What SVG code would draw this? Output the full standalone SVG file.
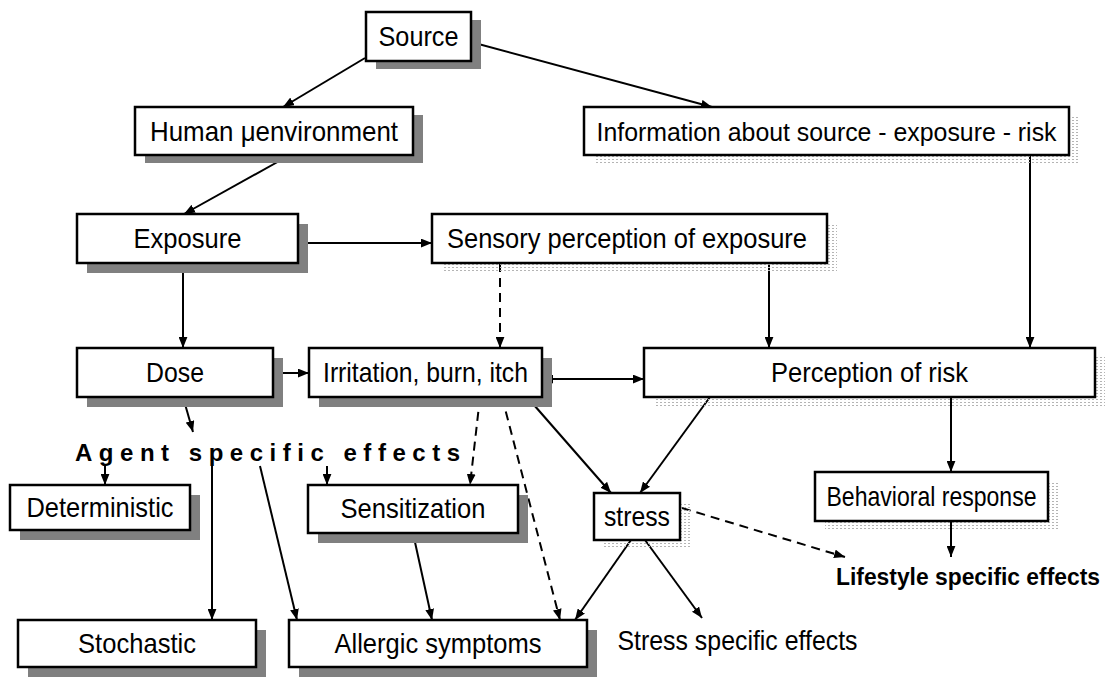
<svg xmlns="http://www.w3.org/2000/svg" width="1110" height="690" viewBox="0 0 1110 690">
<defs>
<style>
.box{fill:#fff;stroke:#000;stroke-width:2.5}
.sh{fill:#808080}
.dsh{fill:url(#dots)}
.t{font-family:"Liberation Sans",Arial,sans-serif;font-size:28px;fill:#000;text-anchor:middle}
.c{fill:none;stroke:#000;stroke-width:2}
.d{stroke-dasharray:9 6}
.a{marker-end:url(#ah)}
</style>
<pattern id="dots" width="4" height="3" patternUnits="userSpaceOnUse">
<rect x="0" y="0" width="2" height="1" fill="#b4b4b4"/>
</pattern>
<marker id="ah" viewBox="0 0 10 8" refX="10" refY="4" markerWidth="11" markerHeight="9" markerUnits="userSpaceOnUse" orient="auto-start-reverse">
<path d="M0,0 L10,4 L0,8 z" fill="#000"/>
</marker>
</defs>
<rect width="1110" height="690" fill="#fff"/>

<g id="connectors">
<path class="c a" d="M365,58 L283,107"/>
<path class="c a" d="M471,42 L712,107"/>
<path class="c a" d="M290,155 L184,214"/>
<path class="c a" d="M1030,155 L1030,348"/>
<path class="c a" d="M298,243 L432,243"/>
<path class="c a" d="M183,263 L183,348"/>
<path class="c d a" d="M500,263 L500,348"/>
<path class="c a" d="M769,263 L769,348"/>
<path class="c a" d="M277,373 L309,373"/>
<path class="c a" d="M542,379 L644,379" marker-start="url(#ah)"/>
<path class="c a" d="M183,397 L193,432"/>
<path class="c a" d="M105,466 L105,485"/>
<path class="c a" d="M327,466 L327,485"/>
<path class="c a" d="M212,466 L212,620"/>
<path class="c a" d="M260,466 L297,620"/>
<path class="c d a" d="M480,397 L470,485"/>
<path class="c d a" d="M502,397 L560,620"/>
<path class="c a" d="M527,397 L611,493"/>
<path class="c a" d="M710,397 L640,493"/>
<path class="c a" d="M951,397 L951,472"/>
<path class="c a" d="M951,521 L951,557"/>
<path class="c d a" d="M682,508 L845,557"/>
<path class="c a" d="M413,533 L432,620"/>
<path class="c a" d="M631,540 L575,620"/>
<path class="c a" d="M645,540 L702,618"/>
</g>

<g id="source">
<rect class="sh" x="376" y="20" width="105" height="49"/>
<rect class="box" x="366" y="12" width="105" height="49"/>
<text class="t" x="418.5" y="46" textLength="80" lengthAdjust="spacingAndGlyphs">Source</text>
</g>
<g id="human">
<rect class="sh" x="145" y="115" width="278" height="48"/>
<rect class="box" x="135" y="107" width="278" height="48"/>
<text class="t" x="274" y="141" textLength="248" lengthAdjust="spacingAndGlyphs">Human μenvironment</text>
</g>
<g id="information">
<rect class="dsh" x="594" y="116" width="485" height="48"/>
<rect class="box" x="584" y="107" width="485" height="48"/>
<text class="t" x="826.5" y="141" font-size="25" textLength="460" lengthAdjust="spacingAndGlyphs" style="font-size:25px">Information about source - exposure - risk</text>
</g>
<g id="exposure">
<rect class="sh" x="87" y="224" width="221" height="49"/>
<rect class="box" x="77" y="214" width="221" height="49"/>
<text class="t" x="187.5" y="248" textLength="108" lengthAdjust="spacingAndGlyphs">Exposure</text>
</g>
<g id="sensory">
<rect class="dsh" x="442" y="223" width="395" height="49"/>
<rect class="box" x="432" y="214" width="395" height="49"/>
<text class="t" x="627" y="248" textLength="360" lengthAdjust="spacingAndGlyphs">Sensory perception of exposure</text>
</g>
<g id="dose">
<rect class="sh" x="87" y="358" width="196" height="49"/>
<rect class="box" x="77" y="348" width="196" height="49"/>
<text class="t" x="175" y="382" textLength="58" lengthAdjust="spacingAndGlyphs">Dose</text>
</g>
<g id="irritation">
<rect class="sh" x="319" y="358" width="233" height="49"/>
<rect class="box" x="309" y="348" width="233" height="49"/>
<text class="t" x="425.5" y="382" textLength="205" lengthAdjust="spacingAndGlyphs">Irritation, burn, itch</text>
</g>
<g id="perception">
<rect class="dsh" x="654" y="357" width="451" height="49"/>
<rect class="box" x="644" y="348" width="451" height="49"/>
<text class="t" x="869.5" y="382" textLength="197" lengthAdjust="spacingAndGlyphs">Perception of risk</text>
</g>
<g id="agent">
<text x="75" y="461" font-family="'Liberation Sans',Arial,sans-serif" font-size="24" font-weight="bold" textLength="385" lengthAdjust="spacing">Agent specific effects</text>
</g>
<g id="deterministic">
<rect class="sh" x="20" y="495" width="180" height="45"/>
<rect class="box" x="10" y="485" width="180" height="45"/>
<text class="t" x="100" y="517" textLength="147" lengthAdjust="spacingAndGlyphs">Deterministic</text>
</g>
<g id="sensitization">
<rect class="sh" x="318" y="495" width="210" height="48"/>
<rect class="box" x="308" y="485" width="210" height="48"/>
<text class="t" x="413" y="518" textLength="145" lengthAdjust="spacingAndGlyphs">Sensitization</text>
</g>
<g id="stress">
<rect class="dsh" x="603" y="502" width="87" height="47"/>
<rect class="box" x="594" y="493" width="86" height="47"/>
<text class="t" x="637" y="526" textLength="66" lengthAdjust="spacingAndGlyphs">stress</text>
</g>
<g id="behavioral">
<rect class="dsh" x="825" y="481" width="233" height="49"/>
<rect class="box" x="815" y="472" width="233" height="49"/>
<text class="t" x="931.5" y="506" textLength="210" lengthAdjust="spacingAndGlyphs">Behavioral response</text>
</g>
<g id="lifestyle">
<text x="836" y="585" font-family="'Liberation Sans',Arial,sans-serif" font-size="23" font-weight="bold" textLength="264" lengthAdjust="spacingAndGlyphs">Lifestyle specific effects</text>
</g>
<g id="stochastic">
<rect class="sh" x="28" y="630" width="238" height="47"/>
<rect class="box" x="18" y="620" width="238" height="47"/>
<text class="t" x="137" y="653" textLength="118" lengthAdjust="spacingAndGlyphs">Stochastic</text>
</g>
<g id="allergic">
<rect class="sh" x="299" y="630" width="298" height="47"/>
<rect class="box" x="289" y="620" width="298" height="47"/>
<text class="t" x="438" y="653" textLength="207" lengthAdjust="spacingAndGlyphs">Allergic symptoms</text>
</g>
<g id="stress-effects">
<text class="t" x="737.5" y="650" textLength="240" lengthAdjust="spacingAndGlyphs">Stress specific effects</text>
</g>
</svg>
